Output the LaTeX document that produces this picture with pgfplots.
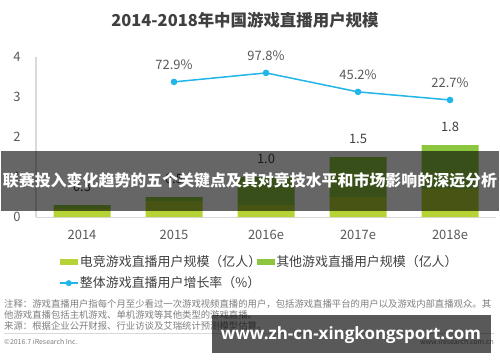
\documentclass[border=0pt]{standalone}
\usepackage{fontspec}
\setmainfont{Noto Sans CJK SC}
\newfontfamily\wmfont{Open Sans}
\usepackage{pgfplots}
\usepackage{pgfplotstable}
\pgfplotsset{compat=1.18}
\pgfplotsset{/pgf/number format/assume math mode=true}
\pgfplotsset{barlegend/.style={legend image code/.code={\fill[##1] (0bp,-3bp) rectangle (18bp,3bp);}},
  linelegend/.style={legend image code/.code={\draw[mark repeat=2,mark phase=2,##1,sharp plot] plot coordinates {(0bp,0bp) (9bp,0bp) (18bp,0bp)};}}}
\definecolor{esport}{HTML}{B5D334}
\definecolor{other}{HTML}{8CC63F}
\definecolor{growth}{HTML}{20B6E8}
\definecolor{txt}{HTML}{404040}
\definecolor{tickc}{HTML}{595959}
\definecolor{note}{HTML}{7F7F7F}
\definecolor{axl}{HTML}{D9D9D9}

\pgfplotstableread{
x esport other total
0 0.2 0.1 0.3
1 0.4 0.1 0.5
2 0.3 0.7 1.0
3 0.5 1.0 1.5
4 0.7 1.1 1.8
}\bars
\pgfplotstableread{
x g
1 72.9
2 97.8
3 45.2
4 22.7
}\growthtab

\begin{document}
\begin{tikzpicture}[x=1bp,y=1bp]
\fill[white] (0,0) rectangle (500,362);
\useasboundingbox (0,0) rectangle (500,362);
\node[font=\fontsize{16.5}{19}\selectfont\bfseries, text=txt] at (245,342) {2014-2018年中国游戏直播用户规模};
\begin{axis}[
  at={(36bp,145bp)}, anchor=south west,
  scale only axis, width=460bp, height=160bp,
  xmin=-0.5, xmax=4.5, ymin=0, ymax=4,
  ybar stacked, bar width=57bp,
  axis x line*=bottom, axis y line*=left,
  axis line style={-},
  x axis line style={draw=axl, line width=1bp},
  y axis line style={draw=axl, line width=1.2bp},
  xtick={0,1,2,3,4}, xticklabels={2014,2015,2016e,2017e,2018e},
  ytick={0,1,2,3,4},
  major tick length=0pt,
  tick label style={font=\fontsize{13}{15}\selectfont, text=tickc},
  yticklabel style={xshift=-12bp},
  xticklabel style={yshift=-10bp},
  legend columns=2,
  legend cell align=left,
  legend style={at={(0.043,-0.216)}, anchor=north west, draw=none, fill=none,
    font=\fontsize{13}{15}\selectfont, text=txt,
    nodes={inner sep=1.5bp}, row sep=6bp,
    /tikz/every even column/.append style={column sep=-6bp}},
]
\addplot[fill=esport, draw=none, barlegend]
  table[x=x, y=esport] {\bars};
\addlegendentry{电竞游戏直播用户规模（亿人）}
\addplot[fill=other, draw=none, barlegend]
  table[x=x, y=other] {\bars};
\addlegendentry{其他游戏直播用户规模（亿人）}
\addlegendimage{linelegend, growth, line width=1.5bp, mark=*, mark size=2.2bp, mark options={fill=growth, draw=growth}}
\addlegendentry{整体游戏直播用户增长率（\%）}
\end{axis}
\begin{axis}[
  at={(36bp,145bp)}, anchor=south west,
  scale only axis, width=460bp, height=160bp,
  xmin=-0.5, xmax=4.5, ymin=0, ymax=4,
  hide axis, clip=false]
\addplot[draw=none, mark=none, point meta=explicit,
  nodes near coords={\pgfmathprintnumber[fixed,fixed zerofill,precision=1]{\pgfplotspointmeta}},
  every node near coord/.append style={font=\fontsize{13}{15}\selectfont, text=txt, anchor=south, yshift=10bp}]
  table[x=x, y=total, meta=total] {\bars};
\end{axis}
\begin{axis}[
  at={(36bp,145bp)}, anchor=south west,
  scale only axis, width=460bp, height=160bp,
  xmin=-0.5, xmax=4.5, ymin=-302, ymax=142,
  hide axis, clip=false]
\addplot[growth, line width=1.5bp, mark=*, mark size=2.5bp, mark options={fill=growth, draw=growth},
  nodes near coords={\pgfmathprintnumber[fixed,fixed zerofill,precision=1]{\pgfplotspointmeta}\%},
  every node near coord/.append style={font=\fontsize{13}{15}\selectfont, text=tickc, anchor=south, yshift=8bp}]
  table[x=x, y=g] {\growthtab};
\end{axis}
% overlay banner
\fill[black, opacity=0.6] (1,151) rectangle (499,211);
\node[text=white, font=\fontsize{16}{18}\selectfont\bfseries] at (250,182) {联赛投入变化趋势的五个关键点及其对竞技水平和市场影响的深远分析};
% notes
\node[anchor=west, text=note, font=\fontsize{9.4}{11}\selectfont, inner sep=0pt] at (4,58) {注释：游戏直播用户指每个月至少看过一次游戏视频直播的用户，包括游戏直播平台的用户以及游戏内部直播观众。其};
\node[anchor=west, text=note, font=\fontsize{9.4}{11}\selectfont, inner sep=0pt] at (4,47) {他游戏直播包括主机游戏、单机游戏等其他类型的游戏直播。};
\node[anchor=west, text=note, font=\fontsize{9.4}{11}\selectfont, inner sep=0pt] at (4,36) {来源：根据企业公开财报、行业访谈及艾瑞统计预测模型估算。};
\draw[axl, line width=0.8bp] (4,29) -- (494,29);
\node[anchor=west, text=note, font=\fontsize{7}{8}\selectfont, inner sep=0pt] at (4,20) {©2016.7 iResearch Inc.};
\node[anchor=east, text=note, font=\fontsize{7}{8}\selectfont, inner sep=0pt] at (494,20) {www.iresearch.com.cn};
% watermark
\fill[black, opacity=0.65] (212,9) rectangle (491,47);
\node[text=white, font=\wmfont\bfseries\fontsize{17}{19}\selectfont] at (351,27) {www.zh-cn-xingkongsport.com};
\end{tikzpicture}
\end{document}
